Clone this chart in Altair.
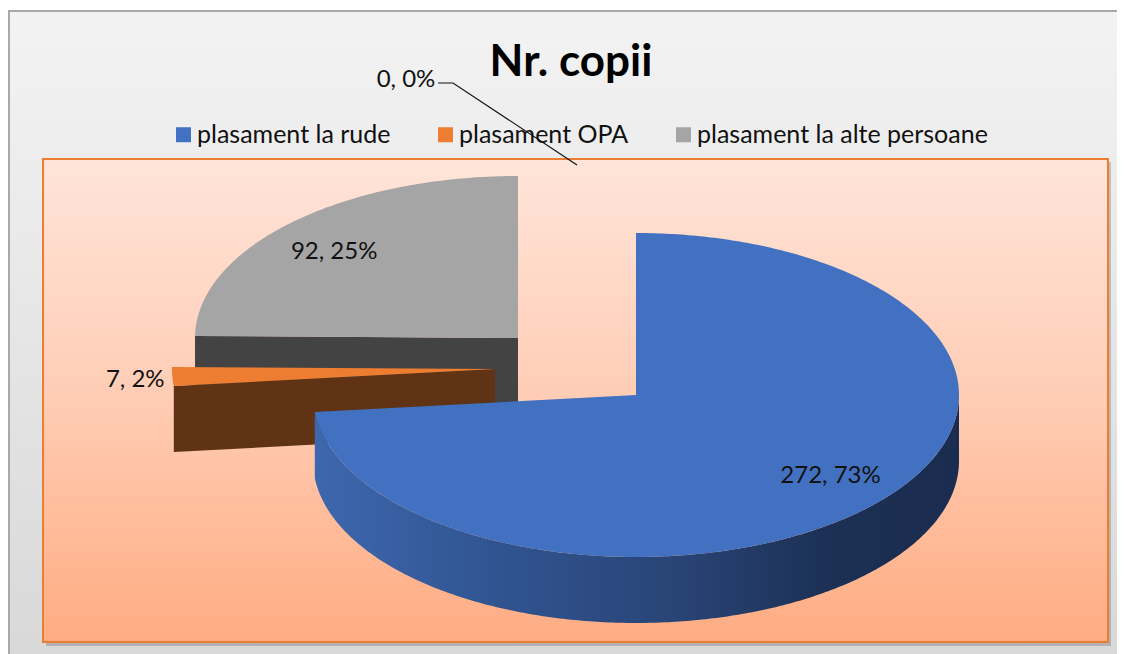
import math
import altair as alt

# ---- data
categories = ["plasament la rude", "plasament OPA", "plasament la alte persoane"]
values = [272, 7, 92]
zero_label = "0, 0%"
percents = ["73%", "2%", "25%"]
colors = ["#4271c2", "#ed7d31", "#a5a5a5"]
side_colors = {"plasament OPA": "#5f3314", "plasament la alte persoane": "#434343"}
title_text = "Nr. copii"

# ---- layout (all image pixels, the page margin is 8)
W, H = 1109, 646
OFF = 8
FONT = "Lato"
centres = [(636, 395), (495, 369), (518, 338)]
RX, RY, DEPTH = 323, 162, 66
label_reach_x = [0.81, 1.115, 0.81]
label_reach_y = [0.75, 1.4, 0.75]

total = sum(values)
starts = []
acc = 0
for v in values:
    starts.append(acc / total * 360)
    acc += v
ends = starts[1:] + [360.0]


def pt(c, th, rx=1.0, ry=1.0, dz=0.0):
    a = math.radians(th)
    return [c[0] + RX * rx * math.sin(a) - OFF, c[1] - RY * ry * math.cos(a) + dz - OFF]


def arc(c, a0, a1, dz=0.0):
    n = max(2, int(abs(a1 - a0) * 1.5))
    return [pt(c, a0 + (a1 - a0) * i / n, 1.0, 1.0, dz) for i in range(n + 1)]


def feature(ring, series):
    ring = ring + [ring[0]]
    return {"type": "Feature", "properties": {"series": series},
            "geometry": {"type": "Polygon", "coordinates": [ring]}}


PROJ = dict(type="identity", scale=1, translate=[0, 0])
color_scale = alt.Scale(domain=categories, range=colors)
legend = alt.Legend(
    title=None, orient="none", legendX=171 - OFF, legendY=122 - OFF, direction="horizontal",
    symbolType="square", symbolSize=225, symbolStrokeWidth=0, labelFont=FONT, labelFontSize=25,
    labelColor="#111111", columnPadding=42, labelOffset=1, zindex=1, symbolOpacity=1, labelLimit=400,
)
X = alt.X("px:Q", scale=alt.Scale(domain=[0, W], range=[0, W]), axis=None)
Y = alt.Y("py:Q", scale=alt.Scale(domain=[0, H], range=[0, H]), axis=None)


def top_layer(i):
    c = centres[i]
    ring = [[c[0] - OFF, c[1] - OFF]] + arc(c, starts[i], ends[i])
    return alt.Chart(alt.Data(values=[feature(ring, categories[i])])).mark_geoshape(
        strokeWidth=0
    ).encode(color=alt.Color("properties.series:N", scale=color_scale, legend=legend)).project(**PROJ)


def cut_layer(i):
    c = centres[i]
    a = starts[i]
    ring = [[c[0] - OFF, c[1] - OFF], pt(c, a), pt(c, a, 1.0, 1.0, DEPTH), [c[0] - OFF, c[1] - OFF + DEPTH]]
    return alt.Chart(alt.Data(values=[feature(ring, categories[i])])).mark_geoshape(
        fill=side_colors[categories[i]], strokeWidth=0
    ).project(**PROJ)


blue_side_ring = arc(centres[0], 90, ends[0]) + arc(centres[0], ends[0], 90, DEPTH)
blue_gradient = alt.Gradient(
    gradient="linear", x1=0, x2=1, y1=0, y2=0,
    stops=[
        alt.GradientStop(offset=0.0, color="#3d67ae"),
        alt.GradientStop(offset=0.3, color="#30538f"),
        alt.GradientStop(offset=0.55, color="#294577"),
        alt.GradientStop(offset=0.8, color="#1c3055"),
        alt.GradientStop(offset=1.0, color="#1a2c4f"),
    ],
)
blue_side = alt.Chart(alt.Data(values=[feature(blue_side_ring, categories[0])])).mark_geoshape(
    fill=blue_gradient, strokeWidth=0
).project(**PROJ)

outer = alt.Chart(alt.Data(values=[{"a": 1}])).mark_rect(
    fill=alt.Gradient(gradient="linear", x1=0, x2=0, y1=0, y2=1,
                      stops=[alt.GradientStop(offset=0, color="#f3f3f3"),
                             alt.GradientStop(offset=1, color="#d8d8d8")]),
    stroke="#a9a9a9", strokeWidth=2,
).encode(x=alt.value(1), x2=alt.value(W + 10), y=alt.value(11 - OFF), y2=alt.value(H + 10))

shadow = alt.Chart(alt.Data(values=[{"a": 1}])).mark_rect(fill="#000000", opacity=0.18).encode(
    x=alt.value(46 - OFF), x2=alt.value(1111 - OFF), y=alt.value(162 - OFF), y2=alt.value(646 - OFF)
)
plot_rect = alt.Chart(alt.Data(values=[{"a": 1}])).mark_rect(
    fill=alt.Gradient(gradient="linear", x1=0, x2=0, y1=0, y2=1,
                      stops=[alt.GradientStop(offset=0, color="#ffe5da"),
                             alt.GradientStop(offset=0.5, color="#ffccb4"),
                             alt.GradientStop(offset=1, color="#ffac82")]),
    stroke="#ed7d31", strokeWidth=2,
).encode(x=alt.value(43 - OFF), x2=alt.value(1108 - OFF), y=alt.value(159 - OFF), y2=alt.value(642 - OFF))

label_rows = []
for i in range(3):
    mid = (starts[i] + ends[i]) / 2
    p = pt(centres[i], mid, label_reach_x[i], label_reach_y[i])
    label_rows.append({"px": p[0], "py": p[1], "t": f"{values[i]}, {percents[i]}"})
label_rows.append({"px": 406 - OFF, "py": 80 - OFF, "t": zero_label})
labels = alt.Chart(alt.Data(values=label_rows)).mark_text(
    font=FONT, fontSize=24, color="#111111", align="center", baseline="middle"
).encode(x=X, y=Y, text="t:N")

leader_rows = [{"px": 438 - OFF, "py": 83 - OFF, "o": 0}, {"px": 453 - OFF, "py": 83 - OFF, "o": 1},
               {"px": 577 - OFF, "py": 165 - OFF, "o": 2}]
leader = alt.Chart(alt.Data(values=leader_rows)).mark_line(color="#111111", strokeWidth=1.2).encode(
    x=X, y=Y, order="o:Q"
)
title = alt.Chart(alt.Data(values=[{"px": 571 - OFF, "py": 63 - OFF, "t": title_text}])).mark_text(
    font=FONT, fontSize=44, fontWeight="bold", color="#000000", align="center", baseline="middle"
).encode(x=X, y=Y, text="t:N")

chart = alt.layer(
    outer, shadow, plot_rect,
    cut_layer(2), top_layer(2),
    cut_layer(1), top_layer(1),
    blue_side, top_layer(0),
    labels, leader, title,
).resolve_scale(x="shared", y="shared").properties(
    width=W, height=H,
    padding=0, autosize=alt.AutoSizeParams(type="none"),
).configure_view(stroke=None)

chart.save("out.html", embed_options={"renderer": "svg", "actions": False})
